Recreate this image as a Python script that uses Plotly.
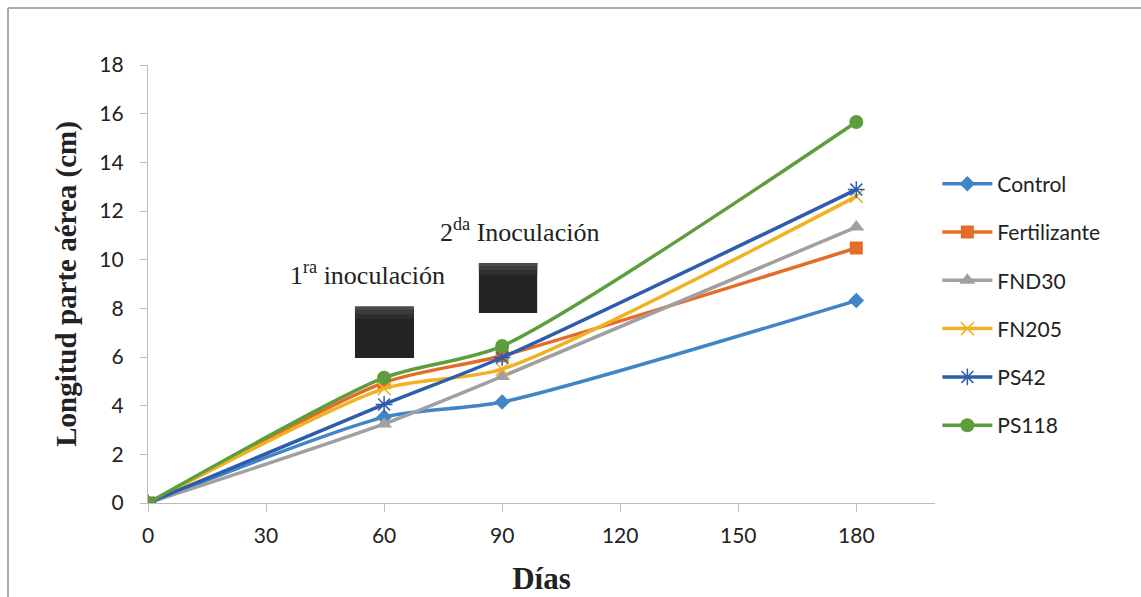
import plotly.graph_objects as go

dias = [0, 60, 90, 180]
series_names = ["Control", "Fertilizante", "FND30", "FN205", "PS42", "PS118"]
control = [0, 3.53, 4.15, 8.32]
fertilizante = [0, 4.95, 6.05, 10.48]
fnd30 = [0, 3.25, 5.2, 11.34]
fn205 = [0, 4.7, 5.5, 12.6]
ps42 = [0, 4.05, 5.98, 12.88]
ps118 = [0, 5.15, 6.45, 15.66]
x_ticks = [0, 30, 60, 90, 120, 150, 180]
y_ticks = [0, 2, 4, 6, 8, 10, 12, 14, 16, 18]

values = [control, fertilizante, fnd30, fn205, ps42, ps118]
colors = ["#4185C6", "#E46C26", "#A0A0A0", "#F0B122", "#2E5DAE", "#5C9E3C"]
symbols = ["diamond", "square", "triangle-up", "x-thin", "asterisk-open", "circle"]
msizes = [12, 13, 14, 13, 14, 14]

fig = go.Figure()
for name, vals, c, s, ms in zip(series_names, values, colors, symbols, msizes):
    marker = dict(symbol=s, size=ms, color=c)
    if s in ("x-thin", "asterisk-open"):
        marker["line"] = dict(color=c, width=1.5)
    fig.add_trace(go.Scatter(
        x=dias, y=vals, name=name, mode="lines+markers",
        line=dict(color=c, width=3.5, shape="spline", smoothing=0.7),
        marker=marker, legendgroup=name,
    ))

font_serif = "Liberation Serif"
fig.update_layout(
    width=1141, height=597,
    margin=dict(l=148, r=206, t=65, b=94),
    paper_bgcolor="white", plot_bgcolor="white",
    font=dict(family="Lato", size=21, color="#222"),
    showlegend=True,
    legend=dict(x=1.003, y=0.775, xanchor="left", yanchor="top",
                font=dict(family="Lato", size=21, color="#222"),
                itemwidth=50, tracegroupgap=18, bgcolor="rgba(0,0,0,0)"),
    xaxis=dict(range=[0, 200], tickvals=x_ticks, showgrid=False, zeroline=False,
               showline=True, linecolor="#BDBDBD", linewidth=1.3, automargin=False,
               ticks="outside", ticklen=8, tickcolor="#BDBDBD", ticklabelstandoff=6,
               tickfont=dict(family="Lato", size=21, color="#222"),
               title=dict(text="<b>Días</b>", font=dict(family=font_serif, size=31, color="#222"), standoff=20)),
    yaxis=dict(range=[0, 18], tickvals=y_ticks, showgrid=False, zeroline=False,
               showline=True, linecolor="#BDBDBD", linewidth=1.3, automargin=False,
               ticks="outside", ticklen=7, tickcolor="#BDBDBD", ticklabelstandoff=12,
               tickfont=dict(family="Lato", size=21, color="#222"),
               title=dict(text="<b>Longitud parte aérea (cm)</b>", font=dict(family=font_serif, size=29, color="#222"), standoff=14)),
)

# outer frame (top and left edges)
fig.add_shape(type="line", xref="paper", yref="paper", x0=(8-148)/787, x1=1.5, y0=(503-8)/438, y1=(503-8)/438,
              line=dict(color="#ABABAB", width=2))
fig.add_shape(type="line", xref="paper", yref="paper", x0=(8-148)/787, x1=(8-148)/787, y0=(503-8)/438, y1=-0.5,
              line=dict(color="#ABABAB", width=2))

# dark boxes (inoculation markers)
for x0, x1, y0, y1 in [(52.6, 67.6, 5.96, 8.06), (84.1, 98.9, 7.81, 9.86)]:
    fig.add_shape(type="rect", x0=x0, x1=x1, y0=y0, y1=y1, fillcolor="#252223", line=dict(width=0), layer="above")
    fig.add_shape(type="rect", x0=x0, x1=x1, y0=y1 - 0.5, y1=y1, fillcolor="#302D2E", line=dict(width=0), layer="above")
    fig.add_shape(type="rect", x0=x0, x1=x1, y0=y1 - 0.3, y1=y1, fillcolor="#3E3B3C", line=dict(width=0), layer="above")
    fig.add_shape(type="rect", x0=x0, x1=x1, y0=y1 - 0.12, y1=y1, fillcolor="#4E4B4C", line=dict(width=0), layer="above")

fig.add_annotation(x=55.9, y=9.45, text="1<sup>ra</sup> inoculación", showarrow=False,
                   font=dict(family=font_serif, size=26, color="#222"))
fig.add_annotation(x=94.3, y=11.2, text="2<sup>da</sup> Inoculación", showarrow=False,
                   font=dict(family=font_serif, size=26, color="#222"))

fig.write_html("out.html")
